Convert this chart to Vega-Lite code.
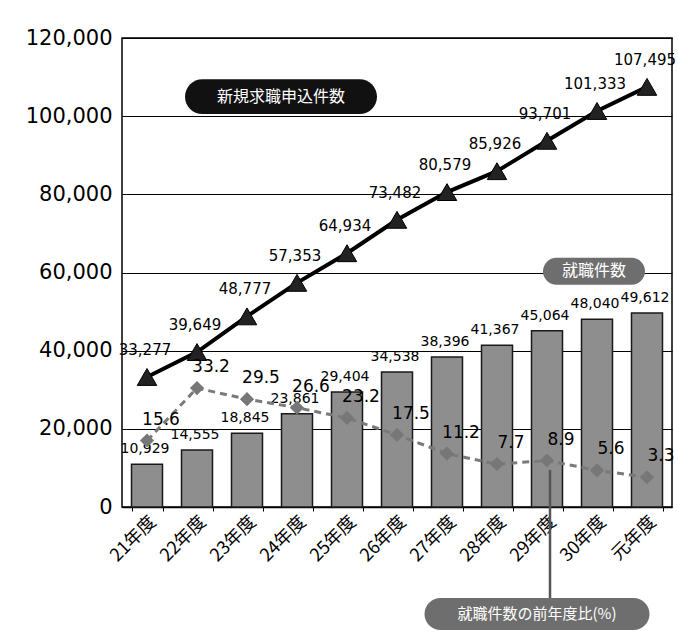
{
  "$schema": "https://vega.github.io/schema/vega-lite/v6.json",
  "width": 550,
  "height": 469,
  "autosize": {"type": "none"},
  "padding": {"left": 122, "top": 38, "right": 6, "bottom": 128},
  "background": "white",
  "config": {
    "font": "DejaVu Sans",
    "view": {"stroke": "#000", "strokeWidth": 1.5}
  },
  "datasets": {
    "main": [
      {"year": "21年度", "apps": 33277, "jobs": 10929, "pct": 15.6},
      {"year": "22年度", "apps": 39649, "jobs": 14555, "pct": 33.2},
      {"year": "23年度", "apps": 48777, "jobs": 18845, "pct": 29.5},
      {"year": "24年度", "apps": 57353, "jobs": 23861, "pct": 26.6},
      {"year": "25年度", "apps": 64934, "jobs": 29404, "pct": 23.2},
      {"year": "26年度", "apps": 73482, "jobs": 34538, "pct": 17.5},
      {"year": "27年度", "apps": 80579, "jobs": 38396, "pct": 11.2},
      {"year": "28年度", "apps": 85926, "jobs": 41367, "pct": 7.7},
      {"year": "29年度", "apps": 93701, "jobs": 45064, "pct": 8.9},
      {"year": "30年度", "apps": 101333, "jobs": 48040, "pct": 5.6},
      {"year": "元年度", "apps": 107495, "jobs": 49612, "pct": 3.3}
    ]
  },
  "resolve": {"scale": {"y": "independent"}},
  "layer": [
    {
      "layer": [
        {
          "data": {"name": "main"},
          "mark": {"type": "bar", "fill": "#8e8e8e", "stroke": "#1a1a1a", "strokeWidth": 1.5},
          "encoding": {
            "x": {
              "field": "year", "type": "ordinal",
              "sort": ["21年度","22年度","23年度","24年度","25年度","26年度","27年度","28年度","29年度","30年度","元年度"],
              "scale": {"paddingInner": 0.38, "paddingOuter": 0.19},
              "axis": {
                "title": null, "labelAngle": -45, "labelAlign": "right", "labelBaseline": "middle",
                "labelFont": "Noto Sans CJK JP", "labelFontSize": 18, "labelColor": "#000",
                "labelPadding": 8, "labelOffset": 6,
                "tickBand": "extent", "tickColor": "#000", "tickSize": 4,
                "domainColor": "#000", "domainWidth": 1.5
              }
            },
            "y": {
              "field": "jobs", "type": "quantitative",
              "scale": {"domain": [0, 120000], "nice": false},
              "axis": {
                "title": null, "values": [0, 20000, 40000, 60000, 80000, 100000, 120000],
                "format": ",d", "labelFontSize": 21, "labelColor": "#000", "labelPadding": 10,
                "ticks": false, "domain": false, "grid": true, "gridColor": "#000", "gridWidth": 1
              }
            }
          }
        },
        {
          "data": {"name": "main"},
          "mark": {"type": "text", "baseline": "bottom", "dy": -8, "dx": -2, "fontSize": 14, "color": "#000"},
          "encoding": {
            "x": {"field": "year", "type": "ordinal", "sort": ["21年度","22年度","23年度","24年度","25年度","26年度","27年度","28年度","29年度","30年度","元年度"]},
            "y": {"field": "jobs", "type": "quantitative"},
            "text": {"field": "jobs", "type": "quantitative", "format": ",d"}
          }
        },
        {
          "data": {"name": "main"},
          "mark": {"type": "line", "color": "#000", "strokeWidth": 4},
          "encoding": {
            "x": {"field": "year", "type": "ordinal", "sort": ["21年度","22年度","23年度","24年度","25年度","26年度","27年度","28年度","29年度","30年度","元年度"]},
            "y": {"field": "apps", "type": "quantitative"}
          }
        },
        {
          "data": {"name": "main"},
          "mark": {"type": "point", "shape": "triangle-up", "filled": true, "size": 380, "color": "#222", "stroke": "#000", "strokeWidth": 1, "opacity": 1},
          "encoding": {
            "x": {"field": "year", "type": "ordinal", "sort": ["21年度","22年度","23年度","24年度","25年度","26年度","27年度","28年度","29年度","30年度","元年度"]},
            "y": {"field": "apps", "type": "quantitative"}
          }
        },
        {
          "data": {"name": "main"},
          "mark": {"type": "text", "baseline": "middle", "dy": -27, "dx": -2, "fontSize": 15, "color": "#000"},
          "encoding": {
            "x": {"field": "year", "type": "ordinal", "sort": ["21年度","22年度","23年度","24年度","25年度","26年度","27年度","28年度","29年度","30年度","元年度"]},
            "y": {"field": "apps", "type": "quantitative"},
            "text": {"field": "apps", "type": "quantitative", "format": ",d"}
          }
        },
        {
          "data": {"values": [{"year": "29年度", "top": 9500, "bottom": -23500}]},
          "mark": {"type": "rule", "color": "#555", "strokeWidth": 2.5, "xOffset": 3},
          "encoding": {
            "x": {"field": "year", "type": "ordinal"},
            "y": {"field": "top", "type": "quantitative"},
            "y2": {"field": "bottom"}
          }
        },
        {
          "data": {"values": [{"year": "24年度", "v": 105000}]},
          "mark": {"type": "point", "filled": true, "opacity": 1, "color": "#111", "size": 36864, "xOffset": -16,
                   "shape": "M-0.818,-0.182L0.818,-0.182A0.182,0.182,0,0,1,0.818,0.182L-0.818,0.182A0.182,0.182,0,0,1,-0.818,-0.182Z"},
          "encoding": {
            "x": {"field": "year", "type": "ordinal"},
            "y": {"field": "v", "type": "quantitative"}
          }
        },
        {
          "data": {"values": [{"year": "24年度", "v": 105000, "label": "新規求職申込件数"}]},
          "mark": {"type": "text", "color": "#fff", "font": "Noto Sans CJK JP", "fontSize": 16, "xOffset": -16, "baseline": "middle"},
          "encoding": {
            "x": {"field": "year", "type": "ordinal"},
            "y": {"field": "v", "type": "quantitative"},
            "text": {"field": "label"}
          }
        },
        {
          "data": {"values": [{"year": "30年度", "v": 60300}]},
          "mark": {"type": "point", "filled": true, "opacity": 1, "color": "#6e6e6e", "size": 10404, "xOffset": -3,
                   "shape": "M-0.735,-0.265L0.735,-0.265A0.265,0.265,0,0,1,0.735,0.265L-0.735,0.265A0.265,0.265,0,0,1,-0.735,-0.265Z"},
          "encoding": {
            "x": {"field": "year", "type": "ordinal"},
            "y": {"field": "v", "type": "quantitative"}
          }
        },
        {
          "data": {"values": [{"year": "30年度", "v": 60300, "label": "就職件数"}]},
          "mark": {"type": "text", "color": "#fff", "font": "Noto Sans CJK JP", "fontSize": 16, "xOffset": -3, "baseline": "middle"},
          "encoding": {
            "x": {"field": "year", "type": "ordinal"},
            "y": {"field": "v", "type": "quantitative"},
            "text": {"field": "label"}
          }
        },
        {
          "data": {"values": [{"year": "29年度", "v": -27400}]},
          "mark": {"type": "point", "filled": true, "opacity": 1, "color": "#6e6e6e", "size": 50625, "xOffset": -10,
                   "shape": "M-0.858,-0.142L0.858,-0.142A0.142,0.142,0,0,1,0.858,0.142L-0.858,0.142A0.142,0.142,0,0,1,-0.858,-0.142Z"},
          "encoding": {
            "x": {"field": "year", "type": "ordinal"},
            "y": {"field": "v", "type": "quantitative"}
          }
        },
        {
          "data": {"values": [{"year": "29年度", "v": -27400, "label": "就職件数の前年度比(%)"}]},
          "mark": {"type": "text", "color": "#fff", "font": "Noto Sans CJK JP", "fontSize": 15, "xOffset": -10, "baseline": "middle"},
          "encoding": {
            "x": {"field": "year", "type": "ordinal"},
            "y": {"field": "v", "type": "quantitative"},
            "text": {"field": "label"}
          }
        }
      ]
    },
    {
      "layer": [
        {
          "data": {"name": "main"},
          "mark": {"type": "line", "color": "#7a7a7a", "strokeWidth": 3, "strokeDash": [7, 5]},
          "encoding": {
            "x": {"field": "year", "type": "ordinal", "sort": ["21年度","22年度","23年度","24年度","25年度","26年度","27年度","28年度","29年度","30年度","元年度"]},
            "y": {"field": "pct", "type": "quantitative", "scale": {"domain": [-6.7, 150.7], "nice": false, "zero": false}, "axis": null}
          }
        },
        {
          "data": {"name": "main"},
          "mark": {"type": "point", "shape": "diamond", "filled": true, "size": 200, "color": "#777", "opacity": 1},
          "encoding": {
            "x": {"field": "year", "type": "ordinal", "sort": ["21年度","22年度","23年度","24年度","25年度","26年度","27年度","28年度","29年度","30年度","元年度"]},
            "y": {"field": "pct", "type": "quantitative"}
          }
        },
        {
          "data": {"name": "main"},
          "mark": {"type": "text", "baseline": "middle", "dx": 14, "dy": -21, "fontSize": 17, "color": "#000"},
          "encoding": {
            "x": {"field": "year", "type": "ordinal", "sort": ["21年度","22年度","23年度","24年度","25年度","26年度","27年度","28年度","29年度","30年度","元年度"]},
            "y": {"field": "pct", "type": "quantitative"},
            "text": {"field": "pct", "type": "quantitative", "format": ".1f"}
          }
        }
      ]
    }
  ]
}
